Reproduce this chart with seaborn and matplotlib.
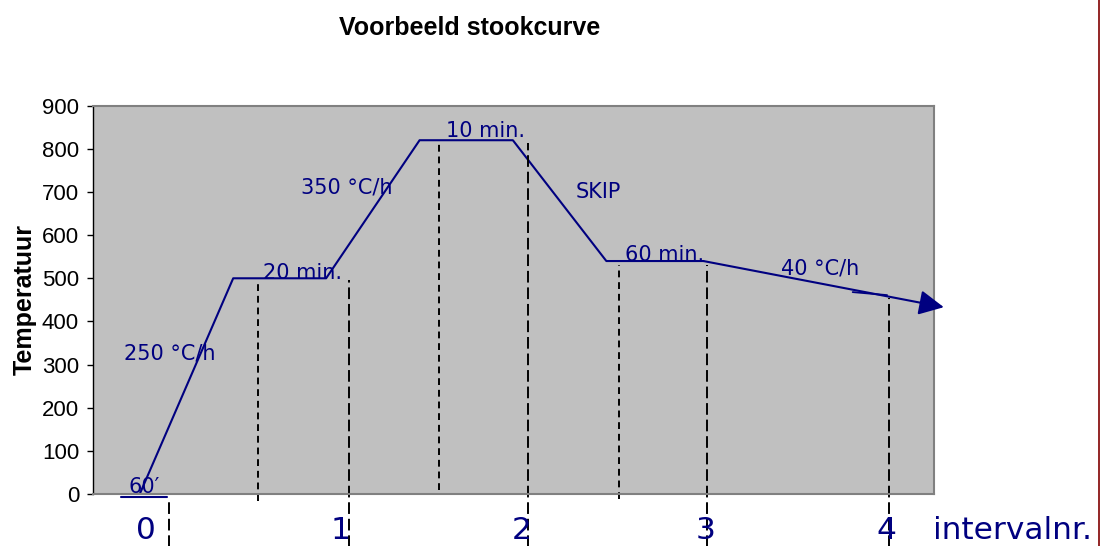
import numpy as np
import pandas as pd
import matplotlib
matplotlib.use('Agg')
import matplotlib.pyplot as plt
from matplotlib.lines import Line2D
import seaborn as sns

# firing schedule, x in interval units, temperature in degC
curve_x = [-0.163, 0.356, 0.872, 1.391, 1.909, 2.428, 2.967]
curve_t = [0, 500, 500, 820, 820, 540, 540]
arrow_end = (4.302, 433)
dbl_x = [3.796, 3.987]
dbl_t = [468, 461]
start_x = [-0.265, -0.013]
start_t = [-7, -7]

# dashed markers
half_x = [0.496, 1.5, 2.496]
half_top = [497, 813, 530]
half_bot = [-16, 9, -12]
full_x = [0, 1, 1.993, 2.989, 4]
full_top = [-9, 497, 813, 530, 454]

# annotations (text, x, baseline temp)
notes = ['60\u2032', '250 \u00b0C/h', '20 min.', '350 \u00b0C/h', '10 min.', 'SKIP', '60 min.', '40 \u00b0C/h']
notes_x = [-0.226, -0.250, 0.524, 0.733, 1.537, 2.260, 2.530, 3.400]
notes_t = [2, 312, 498, 697, 828, 685, 540, 508]

interval_labels = ['0', '1', '2', '3', '4']
interval_x = [-0.128, 0.953, 1.956, 2.980, 3.983]
yticks = [0, 100, 200, 300, 400, 500, 600, 700, 800, 900]

navy = '#000080'

sns.set_theme(style='white')
plt.rcParams['font.family'] = ['Liberation Sans', 'DejaVu Sans']
plt.rcParams.update({'text.color': 'black', 'axes.labelcolor': 'black',
                     'ytick.color': 'black', 'xtick.color': 'black'})

fig = plt.figure(figsize=(11, 5.46), dpi=100)
ax = fig.add_axes([0.0843, 0.0952, 0.7652, 0.7112])
ax.set_facecolor('#C0C0C0')

sns.lineplot(x=curve_x, y=curve_t, color=navy, lw=1.5, ax=ax, sort=False)
ax.annotate('', xy=arrow_end, xytext=(curve_x[-1], curve_t[-1]),
            arrowprops=dict(arrowstyle='-|>', color=navy, lw=1.5,
                            mutation_scale=38, shrinkA=0, shrinkB=0),
            annotation_clip=False)
ax.plot(dbl_x, dbl_t, color=navy, lw=1.3)
ax.plot(start_x, start_t, color=navy, lw=1.5, clip_on=False)

for x, t0, t1 in zip(half_x, half_top, half_bot):
    ax.plot([x, x], [t1, t0], color='black', lw=1.4, dashes=(3.5, 2.5), clip_on=False)
for x, t0 in zip(full_x, full_top):
    ax.plot([x, x], [-130, t0], color='black', lw=1.4, dashes=(6, 2.5), clip_on=False)

for s, x, t in zip(notes, notes_x, notes_t):
    ax.text(x, t, s, color=navy, fontsize=15, family='DejaVu Sans', va='baseline', ha='left')

# bottom row sits just inside the figure edge
lab_y = (494 - 545) / 0.4314
for s, x in zip(interval_labels, interval_x):
    ax.text(x, lab_y, s, color=navy, fontsize=22.5, family='DejaVu Sans', va='bottom', ha='center', clip_on=False)
ax.text(4.244, lab_y, 'intervalnr.', color=navy, fontsize=22.5, family='DejaVu Sans', va='bottom', ha='left', clip_on=False)

ax.set_xlim(-0.424, 4.25)
ax.set_ylim(0, 900)
ax.set_xticks([])
ax.set_yticks(yticks)
ax.tick_params(axis='y', left=True, length=4.3, width=1, color='black', labelsize=16, pad=5.5, labelcolor='black')
for sp in ['top', 'right', 'bottom']:
    ax.spines[sp].set_color('#808080')
    ax.spines[sp].set_linewidth(1.5)
ax.spines['left'].set_color('black')
ax.spines['left'].set_linewidth(1)

ax.set_ylabel('Temperatuur', fontsize=18, fontweight='bold', color='black')
ax.yaxis.set_label_coords(-0.066, 0.5)

fig.text(0.427, 1 - 35 / 546, 'Voorbeeld stookcurve', ha='center', va='baseline',
         fontsize=18, fontweight='bold', color='black')

fig.add_artist(Line2D([1098.5 / 1100, 1098.5 / 1100], [0, 1], color='#800000', lw=1.2))

fig.savefig('out.png', dpi=100)
